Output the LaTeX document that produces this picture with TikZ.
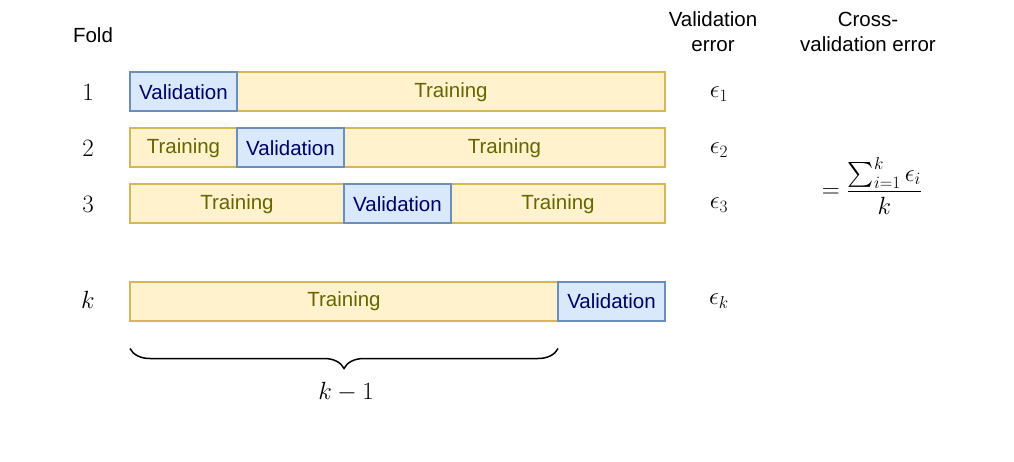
\documentclass[tikz,border=0pt]{standalone}
\usepackage{amsmath}
\usepackage{fontspec}
\setsansfont{Liberation Sans}
\usetikzlibrary{positioning, decorations.pathreplacing, backgrounds}

\definecolor{trainfill}{HTML}{FFF2CC}
\definecolor{trainline}{HTML}{D6B656}
\definecolor{traintext}{HTML}{666600}
\definecolor{validfill}{HTML}{DAE8FC}
\definecolor{validline}{HTML}{6C8EBF}
\definecolor{validtext}{HTML}{000066}

\begin{document}
\begin{tikzpicture}[
    x=1pt, y=-1pt,
    node distance=0pt,
    seg/.style={draw, line width=2pt, minimum height=39pt, inner sep=0pt, outer sep=0pt,
                font=\fontsize{20.5}{24}\selectfont\sffamily},
    train/.style={seg, fill=trainfill, draw=trainline, text=traintext},
    valid/.style={seg, fill=validfill, draw=validline, text=validtext, minimum width=107pt},
    mathlabel/.style={font=\fontsize{25}{29}\selectfont},
    header/.style={font=\fontsize{20.5}{25}\selectfont\sffamily, align=center},
]
\useasboundingbox (0,0) rectangle (1014,462);

% headers
\node[header] (fold) at (93,35) {Fold};
\node[header] (valerr) at (713,32) {Validation\\error};
\node[header] (cverr) at (868,32) {Cross-\\validation error};

% validation blocks
\node[valid, anchor=west] (v1) at (130,92) {Validation};
\node[valid, anchor=west] (v2) at (237,148) {Validation};
\node[valid, anchor=west] (v3) at (344,204) {Validation};
\node[valid, anchor=west] (vk) at (558,301) {Validation};

% training blocks
\begin{scope}[on background layer]
    \node[train, minimum width=428pt, right=of v1] (t1) {Training};
    \node[train, minimum width=107pt, left=of v2] (t2a) {Training};
    \node[train, minimum width=321pt, right=of v2] (t2b) {Training};
    \node[train, minimum width=214pt, left=of v3] (t3a) {Training};
    \node[train, minimum width=214pt, right=of v3] (t3b) {Training};
    \node[train, minimum width=428pt, left=of vk] (tk) {Training};
\end{scope}

% fold numbers
\node[mathlabel] (n1) at (88,92) {1};
\node[mathlabel] (n2) at (88,148) {2};
\node[mathlabel] (n3) at (88,204) {3};
\node[mathlabel] (nk) at (88,300) {$k$};

% errors
\node[mathlabel] (e1) at (719,94) {$\epsilon_1$};
\node[mathlabel] (e2) at (719,150) {$\epsilon_2$};
\node[mathlabel] (e3) at (719,205) {$\epsilon_3$};
\node[mathlabel] (ek) at (719,301) {$\epsilon_k$};

\node[mathlabel] (cv) at (872,186) {$\displaystyle = \frac{\textstyle\sum_{i=1}^{k}\epsilon_i}{k}$};

% brace
\draw[decorate, decoration={brace, mirror, amplitude=20pt}, line width=1.5pt]
    ([yshift=-28pt]tk.south west) -- ([yshift=-28pt]tk.south east);
\node[mathlabel] (kminus) at (346,392) {$k-1$};

\end{tikzpicture}
\end{document}
